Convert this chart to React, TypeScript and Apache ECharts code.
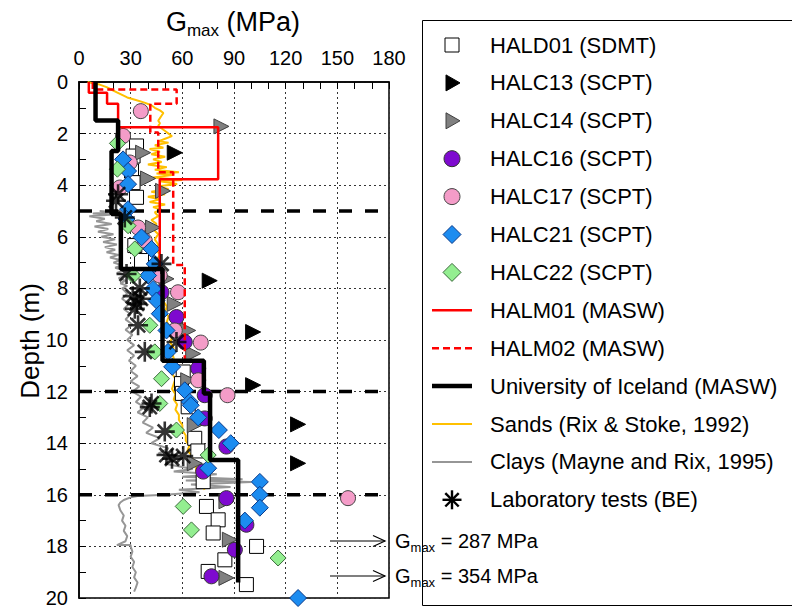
import React, { useEffect, useRef } from "react";
import * as echarts from "echarts";

// [Gmax (MPa), depth (m)]
const HALD01 = [[33.4,2.48],[31.4,2.87],[30.5,3.45],[31.4,3.9],[33.4,4.47],[32.4,6.34],[36.3,6.92],[60.5,11.24],[59.5,11.69],[60,12.07],[63.4,12.59],[67.2,13.81],[69,14.3],[72.1,15.49],[74,16.45],[80.8,16.97],[77.9,17.48],[103.1,18.0],[84.7,18.52],[75,18.97],[97.2,19.48]];
const HALC13 = [[55.6,2.74],[75.9,7.7],[101.1,9.69],[101.1,11.75],[127.2,13.27],[127.2,14.78]];
const HALC14 = [[82.7,1.72],[37.2,2.74],[40.1,3.74],[48.8,4.22],[43,5.64],[50.8,7.63],[55.6,8.6],[63.4,9.63],[66.3,10.53],[63.4,11.56],[67.2,13.3],[67.2,14.78],[85.6,16.25],[87.6,17.74],[85.6,19.22]];
const HALC16 = [[47.9,8.15],[56.6,9.11],[61.4,10.08],[69.2,11.1],[73,12.14],[73,13.04],[85.6,14.13],[72.1,15.1],[85.6,16.13],[97.2,17.16],[90.5,18.13],[76.9,19.16]];
const HALC17 = [[35.9,1.13],[25.6,2.09],[29.5,3.12],[23.7,4.09],[34.3,5.64],[38.2,6.15],[46.9,7.5],[57.5,8.15],[55.6,9.63],[70.7,10.1],[69.2,11.56],[86.2,12.14],[156.2,16.13]];
const HALC21 = [[25.6,3.0],[28.5,3.45],[28.5,3.96],[28.5,4.93],[27.6,5.31],[36.3,6.02],[42.1,6.47],[44,7.05],[40.1,7.5],[43,8.02],[45,8.47],[46.9,8.98],[50.8,9.63],[51.7,10.46],[54.1,11.04],[61.4,11.95],[64.3,12.4],[64.9,12.53],[69.2,13.0],[81.2,13.49],[88.1,14.0],[75,14.97],[105,15.5],[105,16.0],[105,16.5],[96.3,17.0],[127.2,20.0]];
const HALC22 = [[22.3,2.38],[22.3,3.38],[28.5,5.57],[32.4,6.47],[31.4,7.5],[41.1,9.43],[44,10.46],[47.9,11.5],[46.9,12.46],[56.6,13.49],[75,14.46],[60.5,16.45],[65.3,17.36],[115.6,18.45]];
const HALM01 = [[5.7,0],[5.7,0.42],[16.3,0.42],[16.3,0.84],[22.7,0.84],[22.7,1.75],[80.8,1.75],[80.8,3.77],[46.9,3.77],[46.9,7.2]];
const HALM02 = [[8,0],[8,0.29],[56.7,0.29],[56.7,0.84],[41.4,0.84],[41.4,1.96],[46,1.96],[46,3.5],[54.7,3.5],[54.7,7.09],[61.4,7.09],[61.4,10.85]];
const UNIV_ICELAND = [[9.6,0],[9.6,1.49],[22.7,1.49],[22.7,2.67],[18.9,2.67],[18.9,5.12],[24.3,5.12],[24.3,7.25],[48.5,7.25],[48.5,10.8],[72.5,10.8],[72.5,12.07],[76.1,12.07],[76.1,14.65],[92.4,14.65],[92.4,19.4]];
const SANDS = [[5,0],[8,0.05],[12,0.1],[16,0.2],[19,0.3],[22,0.4],[25,0.5],[28,0.6],[33,0.7],[38,0.8],[42,0.9],[44,1.0],[47,1.1],[49,1.2],[48,1.3],[47,1.4],[46,1.5],[47,1.6],[46,1.7],[48,1.8],[50,1.9],[52,2.0],[54,2.1],[50,2.2],[46,2.3],[52,2.35],[44,2.45],[49,2.55],[41,2.6],[47,2.7],[42,2.8],[50,2.9],[43,3.0],[48,3.1],[40,3.2],[51,3.3],[44,3.4],[58,3.5],[45,3.55],[55,3.6],[43,3.7],[60,3.8],[47,3.85],[57,3.95],[45,4.05],[52,4.15],[42,4.25],[50,4.35],[40,4.45],[47,4.55],[41,4.65],[50,4.75],[43,4.85],[48,4.95],[44,5.05],[46,5.2],[42,5.35],[45,5.5],[43,5.7],[46,5.9],[44,6.1],[46,6.3],[45,6.5],[47,6.7],[45,6.9],[47,7.1],[46,7.3],[48,7.5],[47,7.7],[49,7.9],[48,8.1],[50,8.3],[49,8.5],[51,8.7],[50,8.9],[52,9.1],[51,9.3],[53,9.5],[52,9.7],[54,9.9],[53,10.1],[55,10.3],[54,10.5],[55,10.7],[54,10.9],[55,11.1],[54,11.3],[56,11.5],[55,11.7],[54,11.9],[56,12.1],[55,12.3],[57,12.5],[56,12.7],[58,12.9],[58,13.1],[60,13.3],[60,13.5],[62,13.7],[62,13.9],[64,14.1],[63,14.3],[66,14.5],[66,14.7],[68,14.9],[68,15.1],[71,15.3],[73,15.5],[75,15.6],[72,15.7],[73,15.8]];
const CLAYS = [[12,5.0],[20,5.05],[8,5.1],[18,5.15],[6,5.2],[15,5.3],[10,5.4],[19,5.5],[9,5.6],[17,5.7],[11,5.8],[20,5.9],[13,6.0],[21,6.1],[14,6.2],[22,6.3],[15,6.4],[21,6.5],[16,6.6],[23,6.7],[18,6.8],[24,6.9],[20,7.0],[25,7.1],[21,7.2],[26,7.3],[22,7.4],[27,7.5],[23,7.6],[27,7.7],[24,7.8],[28,7.9],[25,8.0],[28,8.2],[25,8.4],[29,8.6],[26,8.8],[30,9.0],[27,9.2],[31,9.4],[27,9.6],[31,9.8],[28,10.0],[32,10.2],[28,10.4],[32,10.6],[29,10.8],[33,11.0],[30,11.2],[34,11.4],[30,11.6],[35,11.8],[31,12.0],[36,12.2],[33,12.4],[38,12.6],[34,12.8],[40,13.0],[37,13.2],[43,13.4],[39,13.6],[47,13.8],[42,14.0],[52,14.2],[46,14.4],[58,14.6],[50,14.8],[66,15.0],[55,15.1],[80,15.2],[60,15.3],[95,15.4],[62,15.45],[100,15.5],[65,15.6],[88,15.7],[58,15.8],[70,15.9],[50,16.0],[34,16.05],[30,16.1],[26,16.2],[24,16.3],[23,16.4],[24,16.6],[26,16.8],[25,17.0],[27,17.2],[26,17.4],[28,17.6],[27,17.8],[22,17.95],[30,17.95],[30,18.0],[31,18.2],[30,18.4],[32,18.6],[31,18.8],[33,19.0],[32,19.2],[34,19.4],[33,19.6],[32,19.75]];
const LAB_BE = [[22.7,4.35],[21.5,4.6],[26.6,5.25],[47.9,7.05],[27.6,7.44],[35.3,8.0],[31.2,8.3],[35.9,8.4],[33.6,8.6],[32.4,8.79],[34.3,9.43],[56.6,10.08],[38.2,10.46],[42.1,12.46],[41.1,12.6],[49.8,13.55],[50.8,14.46],[54,14.6],[60.5,14.5]];
const LAYER_BOUNDARIES = [5, 12, 16];
const X_RANGE = [0, 180];
const Y_RANGE = [0, 20];
const LEGEND_NAMES = [
  "HALD01 (SDMT)", "HALC13 (SCPT)", "HALC14 (SCPT)", "HALC16 (SCPT)", "HALC17 (SCPT)",
  "HALC21 (SCPT)", "HALC22 (SCPT)", "HALM01 (MASW)", "HALM02 (MASW)",
  "University of Iceland (MASW)", "Sands (Rix & Stoke, 1992)", "Clays (Mayne and Rix, 1995)", "Laboratory tests (BE)",
];
const ANNOTATIONS = ["287", "354"];

const FONT = "'Liberation Sans', Arial, sans-serif";
const ASTERISK = "path://M10,0 L10,20 M0,10 L20,10 M2.93,2.93 L17.07,17.07 M2.93,17.07 L17.07,2.93";

const C = {
  d01: { fill: "#ffffff", stroke: "#000" },
  c13: { fill: "#000000", stroke: "#000" },
  c14: { fill: "#808080", stroke: "#404040" },
  c16: { fill: "#7E0ACF", stroke: "#333" },
  c17: { fill: "#F49CC8", stroke: "#444" },
  c21: { fill: "#1C8CF0", stroke: "#0a3a8a" },
  c22: { fill: "#93EE90", stroke: "#3a6a3a" },
};

function scatter(name: string, data: number[][], symbol: string, size: number, col: { fill: string; stroke: string }, rotate = 0, z = 3) {
  return {
    type: "scatter", name, data, symbol, symbolSize: size, symbolRotate: rotate, z,
    itemStyle: { color: col.fill, borderColor: col.stroke, borderWidth: 1, opacity: 1 },
  };
}

function line(name: string, data: number[][], color: string, width: number, type: any, z: number) {
  return {
    type: "line", name, data, symbol: "none", showSymbol: false, z,
    lineStyle: { color, width, type }, itemStyle: { color },
  };
}

function legendGraphics() {
  const out: any[] = [];
  const cx = 452;
  const y0 = 45;
  const step = 37.9;
  LEGEND_NAMES.forEach((name, i) => {
    const y = y0 + step * i;
    out.push({ type: "text", x: 490, y, style: { text: name, fontSize: 22, fontFamily: FONT, fill: "#000", align: "left", verticalAlign: "middle" } });
    const tri = (col: any) => ({ type: "polygon", shape: { points: [[cx - 6, y - 8], [cx + 8, y], [cx - 6, y + 8]] }, style: { fill: col.fill, stroke: col.stroke, lineWidth: 1 } });
    const dia = (col: any) => ({ type: "polygon", shape: { points: [[cx, y - 9], [cx + 9, y], [cx, y + 9], [cx - 9, y]] }, style: { fill: col.fill, stroke: col.stroke, lineWidth: 1 } });
    const seg = (color: string, w: number, dash?: number[]) => ({ type: "line", shape: { x1: cx - 20, y1: y, x2: cx + 20, y2: y }, style: { stroke: color, lineWidth: w, lineDash: dash } });
    switch (i) {
      case 0: out.push({ type: "rect", shape: { x: cx - 7, y: y - 7, width: 14, height: 14 }, style: { fill: C.d01.fill, stroke: C.d01.stroke, lineWidth: 1 } }); break;
      case 1: out.push(tri(C.c13)); break;
      case 2: out.push(tri(C.c14)); break;
      case 3: out.push({ type: "circle", shape: { cx, cy: y, r: 8 }, style: { fill: C.c16.fill, stroke: C.c16.stroke, lineWidth: 1 } }); break;
      case 4: out.push({ type: "circle", shape: { cx, cy: y, r: 8 }, style: { fill: C.c17.fill, stroke: C.c17.stroke, lineWidth: 1 } }); break;
      case 5: out.push(dia(C.c21)); break;
      case 6: out.push(dia(C.c22)); break;
      case 7: out.push(seg("#FF0000", 2.5)); break;
      case 8: out.push(seg("#FF0000", 2.5, [7, 4])); break;
      case 9: out.push(seg("#000000", 4.5)); break;
      case 10: out.push(seg("#FFC000", 2)); break;
      case 11: out.push(seg("#969696", 2)); break;
      case 12: {
        const r = 9.5, d = 6.7;
        [[0, -r, 0, r], [-r, 0, r, 0], [-d, -d, d, d], [-d, d, d, -d]].forEach(([a, b, c, e]) =>
          out.push({ type: "line", shape: { x1: cx + a, y1: y + b, x2: cx + c, y2: y + e }, style: { stroke: "#000", lineWidth: 2.4 } }));
        break;
      }
    }
  });
  return out;
}

export default function App() {
  const ref = useRef<HTMLDivElement>(null);
  useEffect(() => {
    const chart = echarts.init(ref.current!, null, { renderer: "svg" });
    const boundarySeries = LAYER_BOUNDARIES.map((d, i) => ({
      type: "line", name: "boundary" + i, data: [[X_RANGE[0], d], [X_RANGE[1], d]], symbol: "none", z: 2,
      lineStyle: { color: "#000", width: 3.5, type: [13, 13] },
    }));
    const annY = [541, 576];
    const annotationGraphics: any[] = [];
    ANNOTATIONS.forEach((v, i) => {
      const y = annY[i];
      annotationGraphics.push(
        { type: "line", shape: { x1: 330, y1: y, x2: 385, y2: y }, style: { stroke: "#000", lineWidth: 1.2 } },
        { type: "polyline", shape: { points: [[373, y - 5.5], [385, y], [373, y + 5.5]] }, style: { stroke: "#000", lineWidth: 1.2, fill: "none" } },
        { type: "text", x: 395, y, style: { text: `{a|G}{b|max}{a| = ${v} MPa}`, align: "left", verticalAlign: "middle", rich: { a: { fontSize: 20, lineHeight: 26, fontFamily: FONT, fill: "#000" }, b: { fontSize: 13, lineHeight: 13, verticalAlign: "bottom", fontFamily: FONT, fill: "#000" } } } },
      );
    });
    const option: any = {
      animation: false,
      textStyle: { fontFamily: FONT },
      grid: { left: 79, top: 82, width: 310, height: 518, show: true, borderColor: "#000", borderWidth: 1.5, backgroundColor: "transparent" },
      xAxis: {
        type: "value", position: "top", min: X_RANGE[0], max: X_RANGE[1], interval: 30,
        axisLine: { show: true, lineStyle: { color: "#000", width: 1.5 } },
        axisTick: { show: true, inside: true, length: 7, lineStyle: { color: "#000" } },
        minorTick: { show: true, splitNumber: 3, length: 7, lineStyle: { color: "#000" } },
        axisLabel: { fontSize: 20, color: "#000", margin: 14, fontFamily: FONT },
        splitLine: { show: true, lineStyle: { color: "#333", width: 1, type: [2, 3] } },
      },
      yAxis: {
        type: "value", inverse: true, min: Y_RANGE[0], max: Y_RANGE[1], interval: 2,
        axisLine: { show: true, lineStyle: { color: "#000", width: 1.5 } },
        axisTick: { show: true, inside: true, length: 7, lineStyle: { color: "#000" } },
        minorTick: { show: true, splitNumber: 2, length: 7, lineStyle: { color: "#000" } },
        axisLabel: { fontSize: 20, color: "#000", margin: 11, fontFamily: FONT },
        splitLine: { show: true, lineStyle: { color: "#333", width: 1, type: [2, 3] } },
      },
      graphic: [
        { type: "rect", z: 0, shape: { x: 422.5, y: 20.5, width: 400, height: 585 }, style: { fill: "none", stroke: "#000", lineWidth: 1 } },
        { type: "text", x: 233, y: 22, style: { text: "{a|G}{b|max}{a| (MPa)}", align: "center", verticalAlign: "middle", rich: { a: { fontSize: 27, lineHeight: 34, fontFamily: FONT, fill: "#000" }, b: { fontSize: 17, lineHeight: 18, verticalAlign: "bottom", fontFamily: FONT, fill: "#000" } } } },
        { type: "text", x: 30, y: 341, rotation: Math.PI / 2, style: { text: "Depth (m)", fontSize: 26, fontFamily: FONT, fill: "#000", align: "center", verticalAlign: "middle" } },
        ...annotationGraphics,
        ...legendGraphics(),
      ],
      series: [
        line("Clays (Mayne and Rix, 1995)", CLAYS, "#969696", 2, "solid", 1),
        line("Sands (Rix & Stoke, 1992)", SANDS, "#FFC000", 2, "solid", 1),
        ...boundarySeries,
        scatter("HALD01 (SDMT)", HALD01, "rect", 14, C.d01),
        scatter("HALC13 (SCPT)", HALC13, "triangle", 15, C.c13, -90),
        scatter("HALC14 (SCPT)", HALC14, "triangle", 15, C.c14, -90),
        scatter("HALC16 (SCPT)", HALC16, "circle", 15, C.c16),
        scatter("HALC17 (SCPT)", HALC17, "circle", 15, C.c17),
        scatter("HALC21 (SCPT)", HALC21, "diamond", 17, C.c21),
        scatter("HALC22 (SCPT)", HALC22, "diamond", 16, C.c22),
        line("HALM01 (MASW)", HALM01, "#FF0000", 2.5, "solid", 4),
        line("HALM02 (MASW)", HALM02, "#FF0000", 2.5, [7, 4], 4),
        line("University of Iceland (MASW)", UNIV_ICELAND, "#000000", 4.5, "solid", 5),
        {
          type: "scatter", name: "Laboratory tests (BE)", data: LAB_BE, symbol: ASTERISK, symbolSize: 20, z: 6,
          itemStyle: { color: "rgba(0,0,0,0)", borderColor: "#000", borderWidth: 2.6 },
        },
      ],
    };
    chart.setOption(option);
    return () => chart.dispose();
  }, []);
  return <div ref={ref} style={{ position: "absolute", left: 0, top: 0, width: 792, height: 608, background: "#fff" }} />;
}
